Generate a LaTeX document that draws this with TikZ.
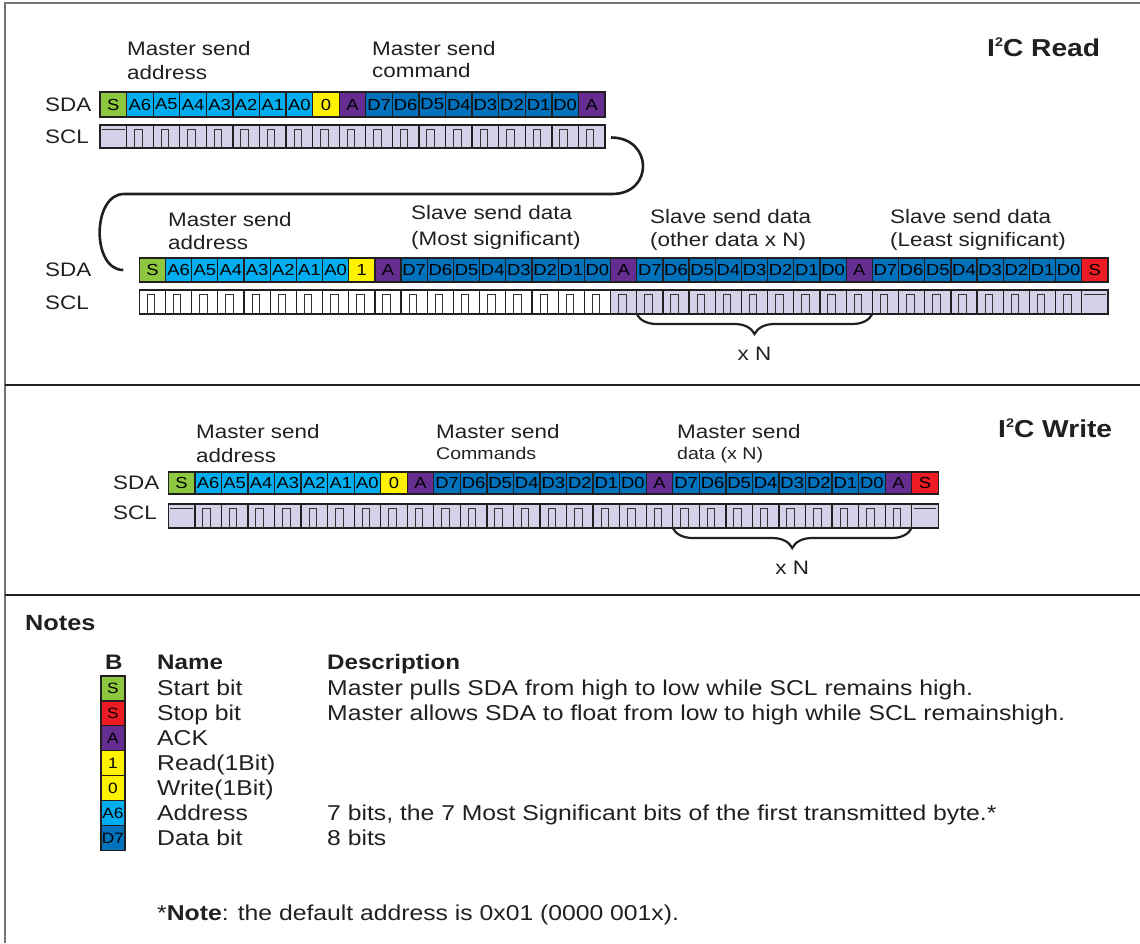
\documentclass[tikz,border=0pt]{standalone}
\usepackage{fontspec}
\setmainfont{Liberation Sans}[FakeStretch=1.15]
\usepackage{xcolor}
\usepackage{tikz}
\usetikzlibrary{positioning,decorations.pathreplacing,calc}
\definecolor{startgreen}{RGB}{141,198,63}
\definecolor{stopred}{RGB}{237,28,36}
\definecolor{ackpurple}{RGB}{102,45,145}
\definecolor{rwyellow}{RGB}{255,242,0}
\definecolor{addrcyan}{RGB}{0,174,239}
\definecolor{datablue}{RGB}{0,114,188}
\definecolor{scllav}{RGB}{212,208,232}
\definecolor{inkdark}{RGB}{35,31,32}
\newcommand{\fsz}[1]{\fontsize{#1}{#1}\selectfont}

\begin{document}
\begin{tikzpicture}[x=1pt, y=-1pt,
    bitcell/.style={draw=inkdark, line width=1.3pt, inner sep=0pt, outer sep=0pt, anchor=north west, font=\fsz{16}},
    sclcell/.style={bitcell, fill=scllav},
    pulse/.style={line width=1pt, draw=black!80},
    lbl/.style={anchor=base west, font=\fsz{19.5}, inner sep=0pt, text=inkdark},
    xbrace/.style={decorate, decoration={brace, mirror, amplitude=20pt}, line width=2.2pt, draw=inkdark},
    frameline/.style={line width=1.6pt, draw=inkdark}]

\useasboundingbox (0,0) rectangle (1140,943);

% frame and section rules
\draw[frameline, draw=black!55] (5,943) -- (5,3) -- (1140,3);
\draw[frameline] (5,385) -- (1140,385);
\draw[frameline] (5,595) -- (1140,595);

%%% I2C read, first line
\node[lbl, font=\fsz{24.5}\bfseries] (readtitle) at (987,56) {I\raisebox{0.4em}{\fsz{12.5}\bfseries 2}C Read};

\node[lbl] (rma1) at (127,55) {Master send};
\node[lbl] (rma2) at (127,79) {address};
\node[lbl] (rmc1) at (372,55) {Master send};
\node[lbl] (rmc2) at (372,77) {command};

\node[lbl] (tsdalbl) at (45,111) {SDA};
\node[lbl] (tscllbl) at (45,143) {SCL};

\foreach \lab/\col [count=\i from 0] in {S/startgreen,A6/addrcyan,A5/addrcyan,A4/addrcyan,A3/addrcyan,A2/addrcyan,A1/addrcyan,A0/addrcyan,0/rwyellow,A/ackpurple,D7/datablue,D6/datablue,D5/datablue,D4/datablue,D3/datablue,D2/datablue,D1/datablue,D0/datablue,A/ackpurple}
    \node[bitcell, fill=\col, minimum width=26.58pt, minimum height=25pt] (tsda\i) at ({100+26.58*\i},92) {\lab};

\foreach \i in {0,...,18}
    \node[sclcell, minimum width=26.58pt, minimum height=23pt] (tscl\i) at ({100+26.58*\i},125) {};
\foreach \i in {1,...,18}
    \draw[pulse] ([xshift=8pt]tscl\i.south west) -- ++(0,-19) -- ++(7.5,0) -- ++(0,19);
\draw[pulse] ([xshift=2pt,yshift=-4.5pt]tscl0.north west) -- ([xshift=-2pt,yshift=-4.5pt]tscl0.north east);

%%% I2C read, second line
\node[lbl] (rsa1) at (168,226) {Master send};
\node[lbl] (rsa2) at (168,249) {address};
\node[lbl] (rsm1) at (411,219) {Slave send data};
\node[lbl] (rsm2) at (411,245) {(Most significant)};
\node[lbl] (rso1) at (650,223) {Slave send data};
\node[lbl] (rso2) at (650,246) {(other data x N)};
\node[lbl] (rsl1) at (890,223) {Slave send data};
\node[lbl] (rsl2) at (890,246) {(Least significant)};

\node[lbl] (rsdalbl) at (45,276) {SDA};
\node[lbl] (rscllbl) at (45,309) {SCL};

\foreach \lab/\col [count=\i from 0] in {S/startgreen,A6/addrcyan,A5/addrcyan,A4/addrcyan,A3/addrcyan,A2/addrcyan,A1/addrcyan,A0/addrcyan,1/rwyellow,A/ackpurple,D7/datablue,D6/datablue,D5/datablue,D4/datablue,D3/datablue,D2/datablue,D1/datablue,D0/datablue,A/ackpurple,D7/datablue,D6/datablue,D5/datablue,D4/datablue,D3/datablue,D2/datablue,D1/datablue,D0/datablue,A/ackpurple,D7/datablue,D6/datablue,D5/datablue,D4/datablue,D3/datablue,D2/datablue,D1/datablue,D0/datablue,S/stopred}
    \node[bitcell, fill=\col, minimum width=26.18pt, minimum height=24pt] (rsda\i) at ({139.3+26.18*\i},258) {\lab};

\foreach \i in {0,...,17}
    \node[bitcell, fill=white, minimum width=26.18pt, minimum height=24pt] (rscl\i) at ({139.3+26.18*\i},290) {};
\foreach \i in {18,...,36}
    \node[sclcell, minimum width=26.18pt, minimum height=24pt] (rscl\i) at ({139.3+26.18*\i},290) {};
\foreach \i in {0,...,35}
    \draw[pulse] ([xshift=8pt]rscl\i.south west) -- ++(0,-19.5) -- ++(7.5,0) -- ++(0,19.5);
\draw[pulse] ([xshift=2pt,yshift=-4.5pt]rscl36.north west) -- ([xshift=-2pt,yshift=-4.5pt]rscl36.north east);

\draw[xbrace] (rscl19.south west) -- (rscl27.south east);
\path (rscl19.south west) -- (rscl27.south east) node[midway, below=30pt, font=\fsz{19.5}, text=inkdark] (rxn) {x N};

% wrap from the first line to the second
\coordinate (wrapa) at ([xshift=6pt,yshift=-1pt]tscl18.east);
\coordinate (wrapb) at (612,194);
\coordinate (wrapc) at (124,194);
\coordinate (wrapd) at ([xshift=-16pt]rsda0.west);
\draw[line width=2.6pt, draw=inkdark]
    (wrapa) .. controls +(42,0) and +(42,0) .. (wrapb) -- (wrapc)
    .. controls +(-32,0) and +(-32,0) .. (wrapd);

%%% I2C write
\node[lbl, font=\fsz{24.5}\bfseries] (writetitle) at (998,437) {I\raisebox{0.4em}{\fsz{12.5}\bfseries 2}C Write};

\node[lbl] (wma1) at (196,438) {Master send};
\node[lbl] (wma2) at (196,462) {address};
\node[lbl] (wmc1) at (436,438) {Master send};
\node[lbl, font=\fsz{17}] (wmc2) at (436,459) {Commands};
\node[lbl] (wmd1) at (677,438) {Master send};
\node[lbl, font=\fsz{17}] (wmd2) at (677,459) {data (x N)};

\node[lbl] (wsdalbl) at (113,489) {SDA};
\node[lbl] (wscllbl) at (113,519) {SCL};

\foreach \lab/\col [count=\i from 0] in {S/startgreen,A6/addrcyan,A5/addrcyan,A4/addrcyan,A3/addrcyan,A2/addrcyan,A1/addrcyan,A0/addrcyan,0/rwyellow,A/ackpurple,D7/datablue,D6/datablue,D5/datablue,D4/datablue,D3/datablue,D2/datablue,D1/datablue,D0/datablue,A/ackpurple,D7/datablue,D6/datablue,D5/datablue,D4/datablue,D3/datablue,D2/datablue,D1/datablue,D0/datablue,A/ackpurple,S/stopred}
    \node[bitcell, fill=\col, minimum width=26.55pt, minimum height=22pt] (wsda\i) at ({168.3+26.55*\i},472) {\lab};

\foreach \i in {0,...,28}
    \node[sclcell, minimum width=26.55pt, minimum height=24pt] (wscl\i) at ({168.3+26.55*\i},504) {};
\foreach \i in {1,...,27}
    \draw[pulse] ([xshift=8pt]wscl\i.south west) -- ++(0,-19.5) -- ++(7.5,0) -- ++(0,19.5);
\foreach \i in {0,28}
    \draw[pulse] ([xshift=2pt,yshift=-4.5pt]wscl\i.north west) -- ([xshift=-2pt,yshift=-4.5pt]wscl\i.north east);

\draw[xbrace] (wscl19.south west) -- (wscl27.south east);
\path (wscl19.south west) -- (wscl27.south east) node[midway, below=30pt, font=\fsz{19.5}, text=inkdark] (wxn) {x N};

%%% notes
\node[lbl, font=\fsz{22}\bfseries] (notes) at (25,630) {Notes};
\node[lbl, font=\fsz{21}\bfseries] (hb) at (105,669) {B};
\node[lbl, font=\fsz{21}\bfseries] (hname) at (157,669) {Name};
\node[lbl, font=\fsz{21}\bfseries] (hdesc) at (327,669) {Description};

\foreach \lab/\col [count=\i from 0] in {S/startgreen,S/stopred,A/ackpurple,1/rwyellow,0/rwyellow,A6/addrcyan,D7/datablue}
    \node[bitcell, fill=\col, font=\fsz{15}, minimum width=24pt, minimum height=24.9pt] (key\i) at (101,{676+24.9*\i}) {\lab};

\foreach \txt [count=\i from 0] in {Start bit,Stop bit,ACK,Read(1Bit),Write(1Bit),Address,Data bit}
    \node[lbl, font=\fsz{21.5}] (name\i) at (157,{695+25*\i}) {\txt};

\node[lbl, font=\fsz{21.5}] (desc0) at (327,695) {Master pulls SDA from high to low while SCL remains high.};
\node[lbl, font=\fsz{21.5}] (desc1) at (327,720) {Master allows SDA to float from low to high while SCL remainshigh.};
\node[lbl, font=\fsz{21.5}] (desc5) at (327,820) {7 bits, the 7 Most Significant bits of the first transmitted byte.*};
\node[lbl, font=\fsz{21.5}] (desc6) at (327,845) {8 bits};

\node[lbl, font=\fsz{21.5}] (footnote) at (157,920) {*\textbf{Note}: the default address is 0x01 (0000 001x).};

\end{tikzpicture}
\end{document}
